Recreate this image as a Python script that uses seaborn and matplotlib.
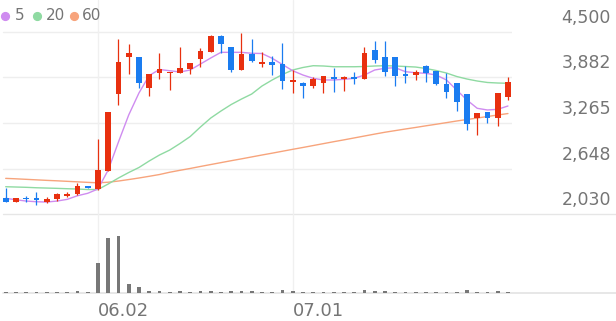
import numpy as np
import pandas as pd
import matplotlib
matplotlib.use("Agg")
import matplotlib.pyplot as plt
from matplotlib import transforms
import seaborn as sns

# ---------------- data ----------------
open_ = [2246, 2200, 2254, 2250, 2192, 2237, 2273, 2300, 2416, 2368,
         2619, 3653, 4158, 4154, 3734, 3945, 3945, 3941, 3995, 4131,
         4225, 4446, 4289, 3982, 4194, 4063, 4094, 4063, 3824, 3802,
         3769, 3810, 3891, 3856, 3891, 3860, 4252, 4154, 4162, 3928,
         3914, 4040, 3968, 3792, 3802, 3657, 3328, 3409, 3328, 3621]
high = [2381, 2257, 2281, 2335, 2260, 2322, 2335, 2449, 2419, 3044,
        3420, 4397, 4330, 4158, 3934, 4208, 3961, 4297, 4083, 4273,
        4449, 4455, 4293, 4478, 4401, 4229, 4171, 4351, 3982, 3819,
        3883, 3905, 4005, 3894, 3951, 4297, 4374, 4374, 4164, 4040,
        3982, 4043, 3972, 3937, 3806, 3661, 3407, 3413, 3671, 3883]
low = [2196, 2196, 2200, 2155, 2189, 2213, 2270, 2297, 2382, 2365,
       2615, 3508, 3924, 3742, 3630, 3856, 3711, 3939, 3928, 4026,
       4225, 4212, 3959, 3979, 4094, 4026, 3914, 3721, 3675, 3599,
       3734, 3667, 3688, 3698, 3788, 3857, 4072, 3901, 3769, 3802,
       3847, 3815, 3779, 3599, 3431, 3170, 3102, 3261, 3224, 3576]
close = [2200, 2254, 2237, 2219, 2237, 2300, 2300, 2416, 2385, 2629,
         3418, 4094, 4216, 3802, 3928, 3991, 3959, 4013, 4081, 4239,
         4446, 4330, 3982, 4194, 4104, 4094, 4049, 3837, 3842, 3769,
         3856, 3901, 3864, 3891, 3856, 4208, 4117, 3959, 3901, 3905,
         3959, 3945, 3788, 3688, 3545, 3251, 3404, 3336, 3667, 3824]
ma5 = [2246, 2227, 2209, 2200, 2196, 2209, 2232, 2281, 2314, 2372,
       2629, 3008, 3373, 3671, 3907, 3989, 3972, 3955, 3982, 4063,
       4144, 4221, 4221, 4221, 4208, 4205, 4140, 4056, 3972, 3914,
       3869, 3847, 3847, 3856, 3869, 3914, 3982, 4005, 4013, 3959,
       3945, 3937, 3914, 3847, 3711, 3576, 3464, 3441, 3450, 3495]
ma20 = [2403, 2399, 2395, 2389, 2385, 2381, 2376, 2372, 2365, 2365,
        2440, 2521, 2595, 2663, 2751, 2832, 2899, 2987, 3082, 3211,
        3332, 3427, 3515, 3589, 3657, 3765, 3847, 3921, 3982, 4016,
        4040, 4036, 4026, 4026, 4026, 4029, 4036, 4040, 4036, 4029,
        4022, 4002, 3975, 3941, 3894, 3860, 3833, 3813, 3806, 3802]
ma60 = [2516, 2510, 2503, 2496, 2489, 2483, 2476, 2469, 2462, 2456,
        2464, 2480, 2500, 2521, 2544, 2568, 2599, 2625, 2650, 2677,
        2703, 2729, 2755, 2780, 2806, 2832, 2857, 2883, 2909, 2934,
        2960, 2986, 3012, 3037, 3063, 3089, 3115, 3140, 3162, 3184,
        3205, 3227, 3248, 3270, 3292, 3312, 3332, 3353, 3373, 3393]
volume = [100, 100, 100, 100, 100, 120, 100, 230, 100, 3070,
          5500, 5770, 930, 600, 200, 270, 140, 270, 140, 200,
          230, 170, 200, 200, 230, 170, 140, 370, 200, 110,
          100, 100, 100, 100, 100, 300, 230, 230, 140, 140,
          120, 100, 100, 140, 140, 370, 120, 100, 200, 140]
price_ticks = [4500, 3882, 3265, 2648, 2030]
price_tick_labels = ["4,500", "3,882", "3,265", "2,648", "2,030"]
date_tick_pos = [9, 28]
date_tick_labels = ["06.02", "07.01"]
ma_names = ["5", "20", "60"]

# ---------------- style ----------------
RED = "#e8300f"
BLUE = "#1a7cf0"
MA_COLORS = ["#cf8cf0", "#8fdaa2", "#f7a47c"]
GRID = "#eeeeee"
TXT = "#757575"

sns.set_theme(style="white")
plt.rcParams["font.family"] = ["DejaVu Sans"]

W, H = 616, 321
fig = plt.figure(figsize=(W / 100, H / 100), dpi=100)
fig.patch.set_facecolor("white")


def fy(py):
    return 1 - py / H


price_bottom_px = 214.3
vol_bottom_px = 293.4
plot_w = 512
ax = fig.add_axes([0, fy(price_bottom_px), plot_w / W, price_bottom_px / H])
axv = fig.add_axes([0, fy(vol_bottom_px), plot_w / W,
                    (vol_bottom_px - price_bottom_px) / H])

n = len(close)
x = np.arange(n)
df = pd.DataFrame({"i": x, "open": open_, "high": high, "low": low,
                   "close": close, "ma5": ma5, "ma20": ma20, "ma60": ma60,
                   "volume": volume})

xlim = (-0.556, 49.395)
ylim = (2030, 2030 + (4500 - 2030) * price_bottom_px / (price_bottom_px - 31.7))

# grid lines
for v in price_ticks[:-1]:
    ax.axhline(v, xmin=3 / plot_w, xmax=1, color=GRID, lw=1, zorder=0)
ax.axhline(price_ticks[-1], xmin=3 / plot_w, xmax=W / plot_w, color="#e6e6e6",
           lw=1, zorder=0, clip_on=False)
for p in date_tick_pos:
    ax.axvline(p, color="#f0f0f0", lw=1, zorder=0)
    axv.axvline(p, color="#f0f0f0", lw=1, zorder=0)

# moving averages
for col, c in zip(["ma60", "ma20", "ma5"], MA_COLORS[::-1]):
    sns.lineplot(data=df, x="i", y=col, ax=ax, color=c, linewidth=1.0,
                 zorder=2, legend=False)

# candles
o = np.array(open_, float)
c_ = np.array(close, float)
up = c_ >= o
cols = np.where(up, RED, BLUE)
ax.vlines(x, low, high, colors=cols, linewidth=0.9, zorder=3)
bottom = np.minimum(o, c_)
height = np.maximum(np.abs(c_ - o), 14)
ax.bar(x, height, bottom=bottom, width=0.56, color=cols, linewidth=0, zorder=4)

ax.set_xlim(*xlim)
ax.set_ylim(*ylim)
ax.axis("off")

# volume
axv.bar(df["i"], df["volume"], width=0.38, color="#777777", linewidth=0,
        zorder=3)
axv.axhline(0, xmin=3 / plot_w, xmax=W / plot_w, color="#e3e3e3", lw=1.2,
            zorder=1, clip_on=False)
axv.set_xlim(*xlim)
axv.set_ylim(0, (vol_bottom_px - price_bottom_px) * 100)
axv.axis("off")

# price labels (right side)
ytrans = transforms.blended_transform_factory(fig.transFigure, ax.transData) + \
    transforms.ScaledTranslation(0, 14 / 100, fig.dpi_scale_trans)
for v, lab in zip(price_ticks, price_tick_labels):
    ax.text(611 / W, v, lab, transform=ytrans, ha="right", va="center",
            fontsize=12.5, color=TXT)

# date labels
xtrans = transforms.blended_transform_factory(axv.transData, fig.transFigure)
for p, lab in zip(date_tick_pos, date_tick_labels):
    axv.text(p, fy(311), lab, transform=xtrans, ha="left", va="center",
             fontsize=13, color=TXT)

# legend
dot_x = [5, 36.7, 74]
txt_x = [15, 45.5, 82]
for name, c, dx, tx in zip(ma_names, MA_COLORS, dot_x, txt_x):
    ax.plot([dx / W], [fy(15.7)], marker="o", markersize=5.6, color=c,
            transform=fig.transFigure, clip_on=False, linestyle="none")
    fig.text(tx / W, fy(15.7), name, ha="left", va="center", fontsize=11,
             color=TXT)

fig.savefig("out.png", dpi=100, facecolor="white")
